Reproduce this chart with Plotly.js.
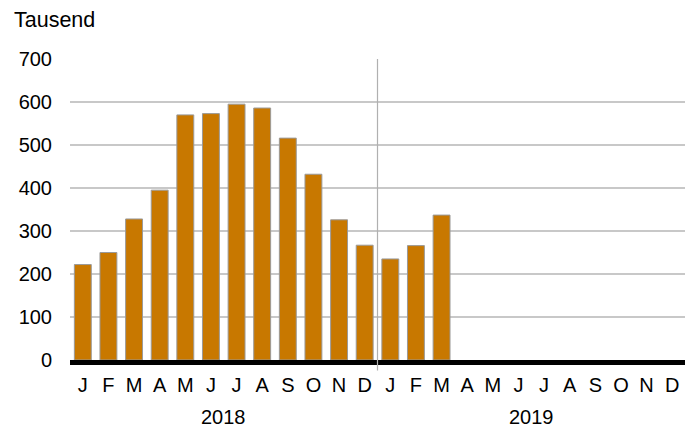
<!DOCTYPE html>
<html>
<head>
<meta charset="utf-8">
<script src="https://cdn.plot.ly/plotly-3.0.1.min.js"></script>
<style>html,body{margin:0;padding:0;background:#fff;}#chart{width:685px;height:429px;}</style>
</head>
<body>
<div id="chart"></div>
<script>
const monthLabels = ["J","F","M","A","M","J","J","A","S","O","N","D","J","F","M","A","M","J","J","A","S","O","N","D"];
const years = ["2018","2019"];
const values = [222,250,328,395,570,573,595,586,516,432,326,267,235,266,337,null,null,null,null,null,null,null,null,null];
const unitLabel = "Tausend";
const yTicks = [0,100,200,300,400,500,600,700];

const xIdx = monthLabels.map((_, i) => i);
const font = {family: "Liberation Sans, Arial, sans-serif", size: 20, color: "#000"};

const trace = {
  type: "bar",
  x: xIdx,
  y: values,
  width: 0.66,
  marker: {color: "#C87800", line: {color: "#9a9a9a", width: 1}},
  hoverinfo: "none"
};

const layout = {
  width: 685, height: 429,
  margin: {l: 70, r: 0, t: 59, b: 69},
  paper_bgcolor: "#fff", plot_bgcolor: "#fff",
  font: font,
  showlegend: false,
  xaxis: {
    range: [-0.5, 23.5],
    tickvals: xIdx,
    ticktext: monthLabels,
    showgrid: false,
    zeroline: false,
    showline: true,
    linecolor: "#000",
    linewidth: 5,
    ticks: "",
    ticklabelstandoff: 3,
    tickfont: font,
    fixedrange: true
  },
  yaxis: {
    range: [0, 700],
    tickvals: yTicks,
    showgrid: true,
    gridcolor: "#c8c8c8",
    gridwidth: 1.3,
    zeroline: false,
    showline: false,
    ticks: "",
    ticklabelstandoff: 17,
    tickfont: font,
    fixedrange: true
  },
  shapes: [{
    type: "line", xref: "x", yref: "paper",
    x0: 11.5, x1: 11.5, y0: -0.035, y1: 1,
    line: {color: "#b0b0b0", width: 1.2},
    layer: "above"
  }],
  annotations: [
    {text: unitLabel, xref: "paper", yref: "paper", x: -0.094, y: 1.128, xanchor: "left", yanchor: "middle", showarrow: false, font: {family: font.family, size: 21.5, color: "#000"}},
    {text: years[0], xref: "x", yref: "paper", x: 5.5, y: -0.145, xanchor: "center", yanchor: "top", showarrow: false, font: font},
    {text: years[1], xref: "x", yref: "paper", x: 17.5, y: -0.145, xanchor: "center", yanchor: "top", showarrow: false, font: font}
  ]
};

Plotly.newPlot("chart", [trace], layout, {displayModeBar: false, staticPlot: true});
</script>
</body>
</html>
